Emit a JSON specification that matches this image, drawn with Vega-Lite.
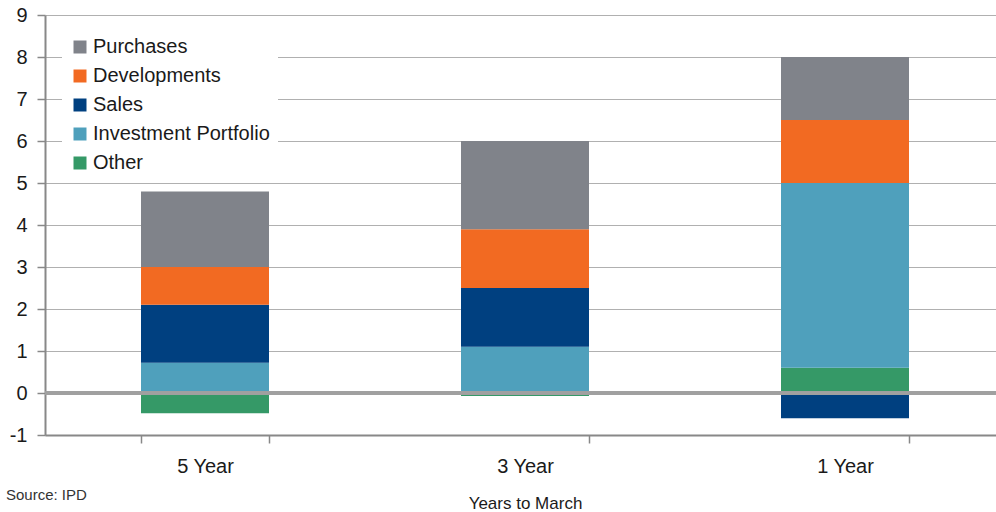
{
  "$schema": "https://vega.github.io/schema/vega-lite/v6.json",
  "width": 960,
  "height": 420,
  "autosize": {"type": "none"},
  "padding": {"left": 45, "top": 15, "right": 0, "bottom": 77},
  "background": "white",
  "config": {"view": {"stroke": null}, "font": "Liberation Sans"},
  "title": {"text": "Source: IPD", "orient": "bottom", "anchor": "start", "frame": "group", "fontSize": 15, "fontWeight": "normal", "color": "#333333", "dx": -39, "dy": -23, "offset": 0},
  "data": {"values": [
    {"period": "5 Year", "component": "Other", "ord": 1, "value": -0.48},
    {"period": "5 Year", "component": "Investment Portfolio", "ord": 2, "value": 0.72},
    {"period": "5 Year", "component": "Sales", "ord": 3, "value": 1.38},
    {"period": "5 Year", "component": "Developments", "ord": 4, "value": 0.9},
    {"period": "5 Year", "component": "Purchases", "ord": 5, "value": 1.8},
    {"period": "3 Year", "component": "Other", "ord": 1, "value": -0.07},
    {"period": "3 Year", "component": "Investment Portfolio", "ord": 2, "value": 1.1},
    {"period": "3 Year", "component": "Sales", "ord": 3, "value": 1.4},
    {"period": "3 Year", "component": "Developments", "ord": 4, "value": 1.4},
    {"period": "3 Year", "component": "Purchases", "ord": 5, "value": 2.1},
    {"period": "1 Year", "component": "Other", "ord": 1, "value": 0.6},
    {"period": "1 Year", "component": "Investment Portfolio", "ord": 2, "value": 4.4},
    {"period": "1 Year", "component": "Sales", "ord": 3, "value": -0.6},
    {"period": "1 Year", "component": "Developments", "ord": 4, "value": 1.5},
    {"period": "1 Year", "component": "Purchases", "ord": 5, "value": 1.5}
  ]},
  "layer": [
    {
      "mark": {"type": "bar"},
      "encoding": {
        "x": {"field": "period", "type": "nominal", "sort": ["5 Year", "3 Year", "1 Year"],
          "scale": {"paddingInner": 0.6, "paddingOuter": 0.3},
          "axis": {"title": "Years to March", "labelAngle": 0, "labelFontSize": 20, "labelColor": "#1a1a1a", "labelPadding": 13, "tickBand": "extent", "ticks": true, "tickSize": 8, "tickColor": "#888888", "tickWidth": 1.5, "domainColor": "#888888", "domainWidth": 2, "titleFontSize": 17, "titleFontWeight": "normal", "titleColor": "#1a1a1a", "titlePadding": 19}},
        "y": {"field": "value", "type": "quantitative", "stack": "zero",
          "scale": {"domain": [-1, 9], "nice": false},
          "axis": {"title": null, "values": [-1, 0, 1, 2, 3, 4, 5, 6, 7, 8, 9], "labelExpr": "'' + datum.value", "labelFontSize": 20, "labelColor": "#1a1a1a", "labelPadding": 10, "tickSize": 8, "tickColor": "#888888", "tickWidth": 1.5, "grid": true, "gridColor": "#b0b0b0", "gridWidth": 1.2, "domainColor": "#888888", "domainWidth": 2}},
        "color": {"field": "component", "type": "nominal",
          "scale": {"domain": ["Purchases", "Developments", "Sales", "Investment Portfolio", "Other"], "range": ["#80838a", "#f26a22", "#004080", "#4fa0bc", "#359967"]},
          "legend": {"orient": "none", "legendX": 17, "legendY": 14, "title": null, "fillColor": "white", "padding": 8, "symbolType": "square", "symbolSize": 169, "symbolStrokeWidth": 0, "symbolOpacity": 1, "labelFontSize": 20, "labelLimit": 400, "rowPadding": 9, "labelOffset": 3, "labelColor": "#1a1a1a"}},
        "order": {"field": "ord", "type": "quantitative"}
      }
    },
    {
      "mark": {"type": "rule", "color": "#a0a0a0", "strokeWidth": 3},
      "encoding": {"y": {"datum": 0}}
    }
  ]
}
